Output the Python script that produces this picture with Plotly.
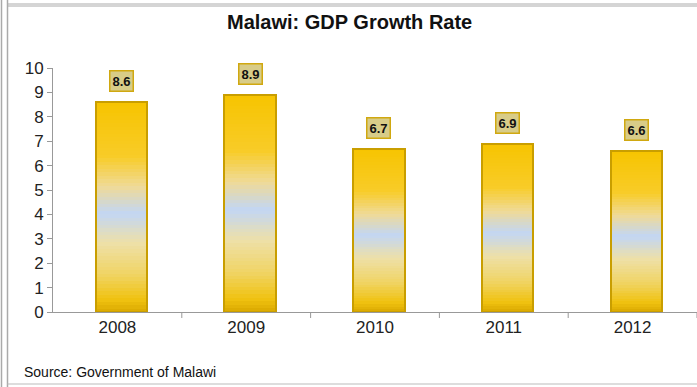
import plotly.graph_objects as go

years = ["2008", "2009", "2010", "2011", "2012"]
growth = [8.6, 8.9, 6.7, 6.9, 6.6]
y_ticks = list(range(0, 11))

W, H = 697, 387
ML, MR, MT, MB = 53, 0, 68, 75
PW, PH = W - ML - MR, H - MT - MB

def px_x(px):
    return (px - ML) / PW

def px_y(py):
    return (H - MB - py) / PH

stops = [
    (0.00, (218, 168, 0)),
    (0.06, (240, 194, 16)),
    (0.18, (240, 212, 100)),
    (0.33, (238, 224, 168)),
    (0.47, (194, 214, 244)),
    (0.60, (240, 218, 150)),
    (0.74, (248, 204, 40)),
    (1.00, (247, 196, 0)),
]

def grad(f):
    for (f0, c0), (f1, c1) in zip(stops[:-1], stops[1:]):
        if f0 <= f <= f1:
            t = (f - f0) / (f1 - f0) if f1 > f0 else 0
            c = [round(a + (b - a) * t) for a, b in zip(c0, c1)]
            return "rgb(%d,%d,%d)" % tuple(c)
    return "rgb(%d,%d,%d)" % stops[-1][1]

N = 60
xs = list(range(len(years)))
fig = go.Figure()
for i in range(N):
    f = (i + 0.5) / N
    fig.add_trace(go.Bar(
        x=xs, y=[v / N for v in growth],
        marker=dict(color=grad(f), line=dict(width=0)),
        width=0.4, offset=-0.17, showlegend=False, hoverinfo="skip",
    ))
# outline
fig.add_trace(go.Bar(
    x=xs, y=growth, base=[0] * len(growth),
    marker=dict(color="rgba(0,0,0,0)", line=dict(color="#C99E00", width=2)),
    width=0.4, offset=-0.17, showlegend=False, hoverinfo="skip",
))

for x, v in zip(xs, growth):
    fig.add_annotation(
        x=x + 0.03, y=v, text="<b>%.1f</b>" % v, showarrow=False,
        yanchor="bottom", yshift=10,
        font=dict(family="Liberation Sans, Arial", size=13, color="#111"),
        bgcolor="#D8CC88", bordercolor="#D0A810", borderwidth=1.5, borderpad=2,
    )

fig.update_layout(
    barmode="stack",
    width=W, height=H,
    margin=dict(l=ML, r=MR, t=MT, b=MB),
    paper_bgcolor="white", plot_bgcolor="white",
    xaxis=dict(
        range=[-0.5, 4.5], tickvals=xs, ticktext=years,
        showgrid=False, zeroline=False, showline=True, linecolor="#999", linewidth=1,
        ticks="", tickfont=dict(family="Liberation Sans, Arial", size=17, color="#222"),
    ),
    yaxis=dict(
        range=[0, 10], tickvals=y_ticks,
        showgrid=False, zeroline=False, showline=True, linecolor="#999", linewidth=1,
        ticks="outside", ticklen=5, tickcolor="#999",
        tickfont=dict(family="Liberation Sans, Arial", size=17, color="#222"),
    ),
    font=dict(family="Liberation Sans, Arial"),
)

shapes = []
for k in range(1, len(years) + 1):
    shapes.append(dict(type="line", xref="x", yref="paper", x0=k - 0.5, x1=k - 0.5,
                       y0=0, y1=px_y(318), line=dict(color="#999", width=1)))
for xx in [1.5, 7.5]:
    shapes.append(dict(type="line", xref="paper", yref="paper", x0=px_x(xx), x1=px_x(xx),
                       y0=px_y(0), y1=px_y(387), line=dict(color="#AAA", width=1.5)))
for yy in [4, 6]:
    shapes.append(dict(type="line", xref="paper", yref="paper", x0=px_x(7.5), x1=px_x(697),
                       y0=px_y(yy), y1=px_y(yy), line=dict(color="#AAA", width=1)))
shapes.append(dict(type="line", xref="paper", yref="paper", x0=px_x(7.5), x1=px_x(697),
                   y0=px_y(384), y1=px_y(384), line=dict(color="#BBB", width=1)))
fig.update_layout(shapes=shapes)

fig.add_annotation(
    text="<b>Malawi: GDP Growth Rate</b>", xref="paper", yref="paper",
    x=px_x(349), y=px_y(22), showarrow=False, xanchor="center", yanchor="middle",
    font=dict(family="Liberation Sans, Arial", size=20, color="#111"),
)
fig.add_annotation(
    text="Source: Government of Malawi", xref="paper", yref="paper",
    x=px_x(22), y=px_y(372), showarrow=False, xanchor="left", yanchor="middle",
    font=dict(family="Liberation Sans, Arial", size=14, color="#111"),
)

fig.write_html("out.html")
